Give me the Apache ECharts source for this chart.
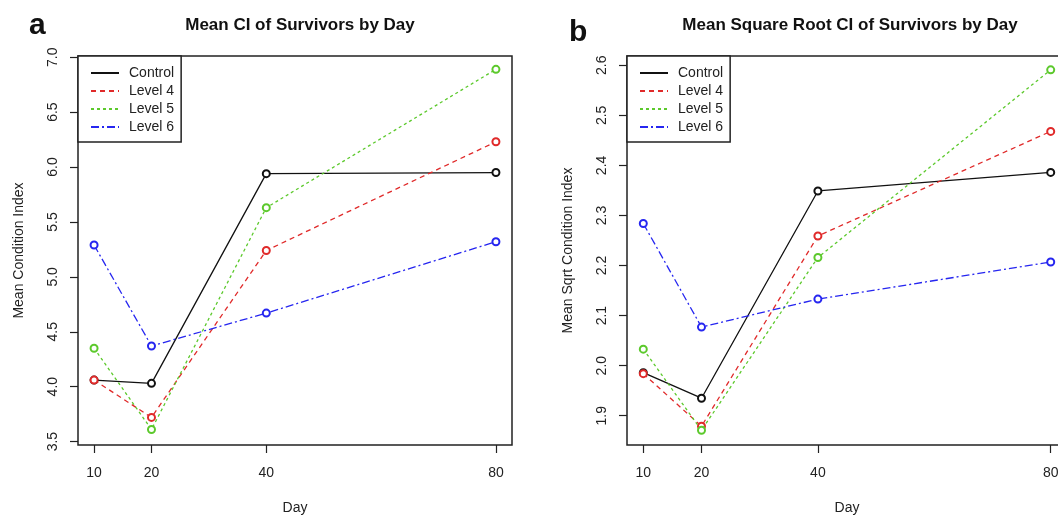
<!DOCTYPE html>
<html>
<head>
<meta charset="UTF-8">
<title>Mean CI of Survivors by Day</title>
<script src="https://cdn.jsdelivr.net/npm/echarts@6/dist/echarts.min.js"></script>
<style>
  html, body { margin: 0; padding: 0; background: #fff; }
  #main { width: 1058px; height: 515px; }
</style>
</head>
<body>
<div id="main"></div>
<script>
// days on the x axis
var days = [10, 20, 40, 80];
var seriesNames = ['Control', 'Level 4', 'Level 5', 'Level 6'];

// panel a: mean condition index
var ciControl = [4.06, 4.03, 5.94, 5.95];
var ciLevel4  = [4.06, 3.72, 5.24, 6.23];
var ciLevel5  = [4.35, 3.61, 5.63, 6.89];
var ciLevel6  = [5.29, 4.37, 4.67, 5.32];

// panel b: mean sqrt condition index
var sqControl = [1.986, 1.935, 2.349, 2.386];
var sqLevel4  = [1.984, 1.879, 2.259, 2.468];
var sqLevel5  = [2.033, 1.871, 2.216, 2.591];
var sqLevel6  = [2.284, 2.077, 2.133, 2.207];

// tick labels
var ciTicks = [3.5, 4.0, 4.5, 5.0, 5.5, 6.0, 6.5, 7.0];
var sqTicks = [1.9, 2.0, 2.1, 2.2, 2.3, 2.4, 2.5, 2.6];

var colors = ['#111111', '#e02a2a', '#5cc92c', '#2626f0'];
var dashes = ['solid', [5, 4], [3, 3], [8, 3, 2, 3]];
var font = 'Liberation Sans, Arial, sans-serif';

var chart = echarts.init(document.getElementById('main'));

function pairs(vals) {
    return days.map(function (d, i) { return [d, vals[i]]; });
}

function mkSeries(idx, vals, k) {
    return {
        name: seriesNames[k],
        type: 'line',
        xAxisIndex: idx,
        yAxisIndex: idx,
        data: pairs(vals),
        symbol: 'emptyCircle',
        symbolSize: 7,
        color: colors[k],
        lineStyle: { color: colors[k], width: 1.3, type: dashes[k] },
        itemStyle: { color: colors[k], borderWidth: 1.3 },
        emphasis: { disabled: true },
        z: 3 + k
    };
}

function mkX(idx) {
    return {
        gridIndex: idx,
        type: 'value',
        min: 7.2, max: 82.8,
        name: 'Day', nameLocation: 'middle', nameGap: 56,
        nameTextStyle: { fontFamily: font, fontSize: 14, color: '#222' },
        axisLine: { show: false },
        axisTick: { show: true, length: 8, customValues: days, lineStyle: { color: '#222', width: 1.2 } },
        axisLabel: { customValues: days, margin: 21, fontFamily: font, fontSize: 14, color: '#222' },
        splitLine: { show: false }
    };
}

function mkY(idx, lo, hi, ticks, title, gap, dec) {
    return {
        gridIndex: idx,
        type: 'value',
        min: lo, max: hi,
        name: title, nameLocation: 'middle', nameGap: gap,
        nameTextStyle: { fontFamily: font, fontSize: 14, color: '#222' },
        axisLine: { show: false },
        axisTick: { show: true, length: 8, customValues: ticks, lineStyle: { color: '#222', width: 1.2 } },
        axisLabel: {
            customValues: ticks, rotate: 90, margin: 18,
            fontFamily: font, fontSize: 14, color: '#222',
            formatter: function (v) { return v.toFixed(dec); }
        },
        splitLine: { show: false }
    };
}

function mkLegend(left) {
    return {
        data: seriesNames,
        orient: 'vertical',
        left: left, top: 56,
        padding: [10, 7, 8, 12],
        itemGap: 4,
        itemWidth: 28, itemHeight: 14,
        backgroundColor: '#fff',
        borderColor: '#222', borderWidth: 1.5, borderRadius: 0,
        itemStyle: { opacity: 0 },
        textStyle: { fontFamily: font, fontSize: 14, color: '#222', padding: [0, 0, 0, 5] },
        selectedMode: false
    };
}

var option = {
    animation: false,
    title: [
        { text: 'Mean CI of Survivors by Day', left: 295, top: 12, textAlign: 'center',
          textStyle: { fontFamily: font, fontSize: 17, fontWeight: 'bold', color: '#111' } },
        { text: 'Mean Square Root CI of Survivors by Day', left: 845, top: 12, textAlign: 'center',
          textStyle: { fontFamily: font, fontSize: 17, fontWeight: 'bold', color: '#111' } },
        { text: 'a', left: 24, top: 6,
          textStyle: { fontFamily: font, fontSize: 30, fontWeight: 'bold', color: '#111' } },
        { text: 'b', left: 564, top: 13,
          textStyle: { fontFamily: font, fontSize: 30, fontWeight: 'bold', color: '#111' } }
    ],
    legend: [mkLegend(78), mkLegend(627)],
    grid: [
        { left: 78, top: 56, width: 434, height: 389, outerBoundsMode: 'none', containLabel: false,
          show: true, borderColor: '#222', borderWidth: 1.5, backgroundColor: 'transparent' },
        { left: 627, top: 56, width: 440, height: 389, outerBoundsMode: 'none', containLabel: false,
          show: true, borderColor: '#222', borderWidth: 1.5, backgroundColor: 'transparent' }
    ],
    xAxis: [mkX(0), mkX(1)],
    yAxis: [
        mkY(0, 3.4688, 7.0112, ciTicks, 'Mean Condition Index', 52, 1),
        mkY(1, 1.8415, 2.6186, sqTicks, 'Mean Sqrt Condition Index', 52, 1)
    ],
    series: [
        mkSeries(0, ciControl, 0),
        mkSeries(0, ciLevel4, 1),
        mkSeries(0, ciLevel5, 2),
        mkSeries(0, ciLevel6, 3),
        mkSeries(1, sqControl, 0),
        mkSeries(1, sqLevel4, 1),
        mkSeries(1, sqLevel5, 2),
        mkSeries(1, sqLevel6, 3)
    ]
};

chart.setOption(option);
</script>
</body>
</html>
